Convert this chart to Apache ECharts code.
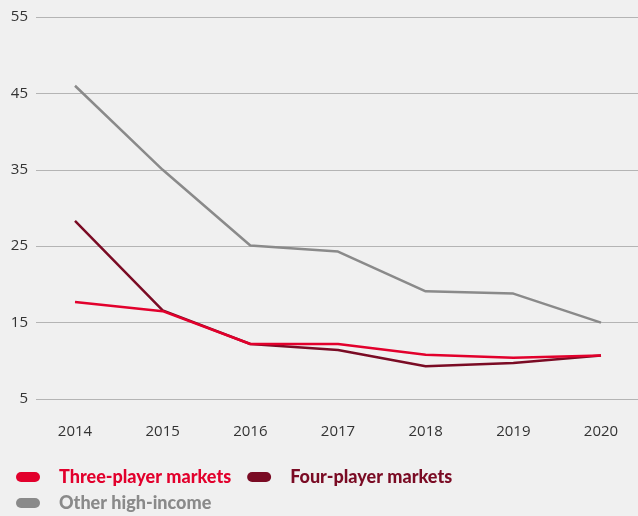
<!DOCTYPE html>
<html><head><meta charset="utf-8">
<script src="https://cdn.jsdelivr.net/npm/echarts@6/dist/echarts.min.js"></script>
<style>html,body{margin:0;padding:0;background:#f0f0f0}#c{width:638px;height:516px}</style>
</head><body><div id="c"></div>
<script>
const years = ['2014','2015','2016','2017','2018','2019','2020'];
const threePlayer = [17.7, 16.5, 12.2, 12.2, 10.8, 10.4, 10.7];
const fourPlayer = [28.3, 16.6, 12.2, 11.4, 9.3, 9.7, 10.7];
const otherHigh = [46.0, 35.0, 25.1, 24.3, 19.1, 18.8, 15.0];
const yMin = 5, yMax = 55, yStep = 10;
const names = ['Three-player markets','Four-player markets','Other high-income'];
const colors = ['#e2002c','#7a0b24','#8a8a8a'];

const font = 'Open Sans';
const legFont = 'Lato';
const pill = 'path://M5,0 H19 A5,5 0 0 1 19,10 H5 A5,5 0 0 1 5,0 Z';
const chart = echarts.init(document.getElementById('c'));
function leg(items, top, left) {
  return {
    top: top, left: left, orient: 'horizontal', itemWidth: 24, itemHeight: 10, itemGap: 16,
    icon: pill,
    data: items.map(i => ({name: names[i], textStyle: {color: colors[i]}})),
    textStyle: {fontFamily: legFont, fontWeight: 900, fontSize: 18, padding: [0,0,0,14]}
  };
}
chart.setOption({
  backgroundColor: '#f0f0f0',
  animation: false,
  grid: [
    {left: 75, right: 37, top: 17, bottom: 117},
    {left: 36, right: 0, top: 17, bottom: 117}
  ],
  xAxis: [
    {type: 'category', data: years, boundaryGap: false, gridIndex: 0,
     axisLine: {show: false}, axisTick: {show: false},
     axisLabel: {color: '#333', fontFamily: font, fontSize: 15, margin: 25}},
    {type: 'value', gridIndex: 1, show: false, min: 0, max: 1}
  ],
  yAxis: [
    {type: 'value', gridIndex: 0, min: yMin, max: yMax, interval: yStep, show: false},
    {type: 'value', gridIndex: 1, min: yMin, max: yMax, interval: yStep,
     axisLine: {show: false}, axisTick: {show: false},
     axisLabel: {color: '#333', fontFamily: font, fontSize: 15, margin: 8},
     splitLine: {lineStyle: {color: '#b4b4b4', width: 1}}}
  ],
  legend: [leg([0,1], 463, 11), leg([2], 489, 11)],
  series: [otherHigh, fourPlayer, threePlayer].map((d, k) => {
    const i = 2 - k;
    return {name: names[i], type: 'line', data: d, xAxisIndex: 0, yAxisIndex: 0,
      showSymbol: false, symbol: 'none', lineStyle: {color: colors[i], width: 2.5},
      itemStyle: {color: colors[i]}};
  })
});
</script></body></html>
